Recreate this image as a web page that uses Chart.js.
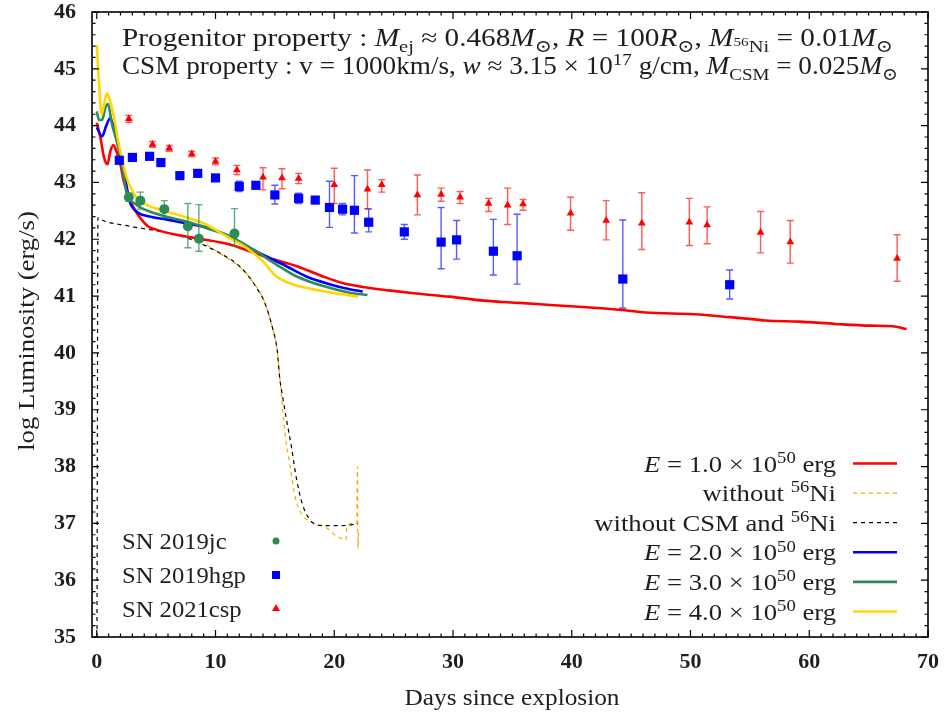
<!DOCTYPE html>
<html>
<head>
<meta charset="utf-8">
<title>Light curves</title>
<script src="https://cdn.jsdelivr.net/npm/chart.js@4.4.0/dist/chart.umd.min.js"></script>
<style>
  html, body { margin: 0; padding: 0; background: #fff; }
</style>
</head>
<body>
<canvas id="lcChart" width="945" height="716"></canvas>
<script>
// tick labels
const xTicks = [0, 10, 20, 30, 40, 50, 60, 70];
const yTicks = [35, 36, 37, 38, 39, 40, 41, 42, 43, 44, 45, 46];

// SN 2019jc (green circles)
const jcDays = [2.7, 3.67, 5.69, 7.67, 8.6, 11.6];
const jcLum = [42.74, 42.68, 42.53, 42.23, 42.01, 42.10];
const jcErrUp = [0.07, 0.15, 0.15, 0.40, 0.60, 0.44];
const jcErrDown = [0.07, 0.15, 0.15, 0.38, 0.22, 0.22];

// SN 2019hgp (blue squares)
const hgpDays = [1.9, 3.0, 4.45, 5.4, 7.0, 8.5, 10.0, 12.0, 13.4, 15.0, 17.0, 18.4, 19.6, 20.7, 21.7, 22.9, 25.9, 29.0, 30.3, 33.4, 35.4, 44.3, 53.3];
const hgpLum = [43.39, 43.44, 43.46, 43.35, 43.12, 43.16, 43.08, 42.93, 42.95, 42.78, 42.72, 42.69, 42.56, 42.53, 42.51, 42.30, 42.13, 41.95, 41.99, 41.79, 41.71, 41.30, 41.20];
const hgpErrUp = [0, 0, 0, 0, 0, 0, 0, 0.09, 0, 0.17, 0.09, 0, 0.46, 0.10, 0.61, 0.23, 0.13, 0.61, 0.34, 0.56, 0.73, 1.04, 0.26];
const hgpErrDown = [0, 0, 0, 0, 0, 0, 0, 0.09, 0, 0.16, 0.09, 0, 0.35, 0.10, 0.40, 0.17, 0.13, 0.47, 0.34, 0.42, 0.50, 0.51, 0.25];

// SN 2021csp (red triangles)
const cspDays = [2.7, 4.7, 6.1, 8.0, 10.0, 11.8, 14.0, 15.6, 17.0, 20.0, 22.8, 24.0, 27.0, 29.0, 30.6, 33.0, 34.6, 35.9, 39.9, 42.9, 45.9, 49.9, 51.4, 55.9, 58.4, 67.4];
const cspLum = [44.12, 43.67, 43.60, 43.50, 43.37, 43.22, 43.09, 43.08, 43.07, 42.96, 42.88, 42.96, 42.78, 42.79, 42.74, 42.63, 42.60, 42.62, 42.46, 42.33, 42.28, 42.30, 42.25, 42.12, 41.95, 41.66];
const cspErrUp = [0.06, 0.05, 0.05, 0.05, 0.06, 0.08, 0.17, 0.16, 0.09, 0.29, 0.34, 0.09, 0.35, 0.11, 0.10, 0.09, 0.30, 0.08, 0.28, 0.35, 0.54, 0.42, 0.32, 0.37, 0.38, 0.42];
const cspErrDown = [0.06, 0.05, 0.05, 0.05, 0.06, 0.08, 0.22, 0.19, 0.09, 0.33, 0.34, 0.13, 0.35, 0.12, 0.11, 0.14, 0.34, 0.11, 0.30, 0.34, 0.46, 0.41, 0.33, 0.36, 0.37, 0.40];

// model light curves [day, log L]
const modelE1 = [[0, 44.05], [0.3, 43.8], [0.6, 43.45], [0.9, 43.32], [1.15, 43.55], [1.4, 43.66], [1.7, 43.52], [1.95, 43.36], [2.3, 43.0], [2.65, 42.78], [3.0, 42.6], [3.47, 42.43], [4.3, 42.23], [5.0, 42.17], [6.7, 42.08], [8.65, 42.01], [11.2, 41.91], [12.9, 41.79], [14.5, 41.67], [16.8, 41.53], [19.0, 41.35], [20.7, 41.23], [22.4, 41.16], [24.6, 41.10], [26.7, 41.05], [29.7, 40.99], [32.6, 40.92], [35.6, 40.88], [38.5, 40.84], [41.5, 40.80], [44.5, 40.75], [46.2, 40.71], [50.3, 40.68], [53.3, 40.63], [55.4, 40.59], [56.3, 40.57], [59.2, 40.55], [62.2, 40.51], [65.1, 40.48], [67.0, 40.47], [68.2, 40.42]];
const modelNoNi = [[0, 44.05], [0.3, 43.8], [0.6, 43.45], [0.9, 43.32], [1.15, 43.55], [1.4, 43.66], [1.7, 43.52], [1.95, 43.36], [2.3, 43.0], [2.65, 42.78], [3.0, 42.6], [3.47, 42.43], [4.3, 42.23], [5.0, 42.17], [6.7, 42.08], [8.65, 42.0], [9.5, 41.87], [10.6, 41.72], [12.0, 41.52], [12.9, 41.32], [14.1, 40.91], [14.8, 40.44], [15.2, 40.04], [15.4, 39.6], [15.66, 39.0], [15.9, 38.5], [16.25, 38.05], [16.7, 37.47], [17.3, 37.15], [18.0, 37.03], [19.0, 36.96], [19.5, 36.9], [19.9, 36.82], [20.4, 36.75], [21.0, 36.71], [21.05, 36.95], [21.6, 37.0], [21.9, 37.0], [21.95, 38.0], [22.0, 36.55], [22.05, 36.85]];
const modelNoCsmNi = [[0.02, 35.0], [0.05, 38.5], [0.1, 42.38], [0.53, 42.33], [2.77, 42.23], [5.0, 42.15], [7.25, 42.05], [8.9, 41.91], [10.6, 41.73], [12.0, 41.53], [12.9, 41.32], [13.6, 41.1], [14.1, 40.91], [14.8, 40.44], [15.2, 40.04], [15.4, 39.57], [15.66, 39.22], [15.94, 38.87], [16.4, 38.34], [16.8, 37.81], [17.3, 37.35], [18.0, 37.05], [19.0, 36.96], [20.7, 36.96], [22.0, 36.99]];
const modelE2 = [[0, 43.97], [0.45, 43.81], [0.8, 44.0], [1.13, 44.13], [1.4, 44.0], [1.7, 43.74], [2.2, 43.31], [2.77, 42.67], [3.33, 42.49], [4.45, 42.40], [5.86, 42.35], [7.8, 42.27], [9.2, 42.21], [11.2, 42.05], [13.4, 41.79], [15.66, 41.56], [17.6, 41.35], [19.6, 41.21], [21.3, 41.12], [22.4, 41.08]];
const modelE3 = [[0, 44.25], [0.2, 44.1], [0.45, 44.1], [0.75, 44.33], [0.95, 44.38], [1.27, 44.04], [1.8, 43.63], [2.2, 43.2], [2.5, 42.84], [3.33, 42.61], [4.45, 42.49], [6.4, 42.37], [7.8, 42.30], [9.2, 42.20], [11.2, 42.05], [13.4, 41.79], [15.1, 41.56], [16.8, 41.35], [19.0, 41.18], [21.3, 41.06], [22.8, 41.02]];
const modelE4 = [[0, 45.42], [0.15, 44.9], [0.4, 44.2], [0.6, 44.35], [0.85, 44.57], [1.1, 44.45], [1.4, 44.2], [1.8, 43.74], [2.1, 43.45], [2.5, 43.1], [2.95, 42.87], [3.4, 42.72], [4.17, 42.61], [5.86, 42.49], [7.8, 42.37], [8.9, 42.29], [11.2, 42.02], [12.6, 41.85], [14.0, 41.61], [15.1, 41.35], [16.5, 41.21], [19.0, 41.09], [22.0, 40.99]];

const FONT = '"Liberation Serif", "DejaVu Serif", serif';
const TEXT = '#1e1e1e';

function toPoints(days, lum) {
    return days.map((d, i) => ({ x: d, y: lum[i] }));
}
function pairs(arr) {
    return arr.map(p => ({ x: p[0], y: p[1] }));
}
function modelLine(arr, color, width, dash) {
    return {
        data: pairs(arr),
        showLine: true,
        pointRadius: 0,
        borderColor: color,
        backgroundColor: color,
        borderWidth: width,
        borderDash: dash || [],
        cubicInterpolationMode: 'monotone'
    };
}

// rich text pieces
const R = t => ({ t });
const I = t => ({ t, i: true });
const SB = t => ({ t, k: 'sub' });
const SP = t => ({ t, k: 'sup' });
const SS = t => ({ t, k: 'ss' });

// draws mixed italic/sub/sup text; stretch widens the glyphs a bit (the original font is wider)
function drawRich(ctx, segs, x, baseY, size, align, stretch, fitWidth) {
    const parts = segs.map(s => {
        let sz = size;
        let dy = 0;
        if (s.k === 'sub') { sz = size * 0.7; dy = size * 0.22; }
        if (s.k === 'sup') { sz = size * 0.7; dy = -size * 0.38; }
        if (s.k === 'ss') { sz = size * 0.52; dy = -size * 0.02; }
        const font = (s.i ? 'italic ' : '') + sz.toFixed(1) + 'px ' + FONT;
        ctx.font = font;
        return { t: s.t, font, dy, w: ctx.measureText(s.t).width };
    });
    const natural = parts.reduce((a, p) => a + p.w, 0);
    const sx = fitWidth ? fitWidth / natural : (stretch || 1);
    const w = natural * sx;
    const start = align === 'right' ? x - w : align === 'center' ? x - w / 2 : x;
    ctx.save();
    ctx.translate(start, baseY);
    ctx.scale(sx, 1);
    ctx.textAlign = 'left';
    ctx.textBaseline = 'alphabetic';
    let cx = 0;
    parts.forEach(p => {
        ctx.font = p.font;
        ctx.fillText(p.t, cx, p.dy);
        cx += p.w;
    });
    ctx.restore();
}

// error bars drawn through the scales
const errorBars = {
    id: 'errorBars',
    afterDatasetsDraw(chart) {
        const { ctx, scales: { x, y } } = chart;
        const sets = [
            [cspDays, cspLum, cspErrUp, cspErrDown, 'rgba(255,0,0,0.65)'],
            [hgpDays, hgpLum, hgpErrUp, hgpErrDown, 'rgba(0,0,255,0.65)'],
            [jcDays, jcLum, jcErrUp, jcErrDown, 'rgba(46,139,87,0.75)']
        ];
        ctx.save();
        ctx.lineWidth = 1.4;
        sets.forEach(([days, lum, up, down, col]) => {
            ctx.strokeStyle = col;
            days.forEach((d, i) => {
                if (!up[i] && !down[i]) return;
                const px = x.getPixelForValue(d);
                const y1 = y.getPixelForValue(lum[i] + up[i]);
                const y2 = y.getPixelForValue(lum[i] - down[i]);
                ctx.beginPath();
                ctx.moveTo(px, y1); ctx.lineTo(px, y2);
                ctx.moveTo(px - 3.5, y1); ctx.lineTo(px + 3.5, y1);
                ctx.moveTo(px - 3.5, y2); ctx.lineTo(px + 3.5, y2);
                ctx.stroke();
            });
        });
        ctx.restore();
    }
};

// frame with inward ticks on all four sides
const frameTicks = {
    id: 'frameTicks',
    afterDraw(chart) {
        const { ctx, chartArea: a, scales: { x, y } } = chart;
        ctx.save();
        ctx.strokeStyle = '#000';
        ctx.lineWidth = 1.6;
        ctx.strokeRect(a.left, a.top, a.right - a.left, a.bottom - a.top);
        ctx.lineWidth = 1.2;
        ctx.beginPath();
        for (let d = 0; d <= 70; d++) {
            const px = x.getPixelForValue(d);
            const len = d % 10 === 0 ? 7 : 3.5;
            ctx.moveTo(px, a.bottom); ctx.lineTo(px, a.bottom - len);
            ctx.moveTo(px, a.top); ctx.lineTo(px, a.top + len);
        }
        for (let k = 0; k <= 55; k++) {
            const py = y.getPixelForValue(35 + k * 0.2);
            const len = k % 5 === 0 ? 7 : 3.5;
            ctx.moveTo(a.left, py); ctx.lineTo(a.left + len, py);
            ctx.moveTo(a.right, py); ctx.lineTo(a.right - len, py);
        }
        ctx.stroke();
        ctx.restore();
    }
};

// annotation text, legends and axis titles
const labels = {
    id: 'labels',
    afterDraw(chart) {
        const ctx = chart.ctx;
        ctx.save();
        ctx.fillStyle = TEXT;

        drawRich(ctx, [R('Progenitor property : '), I('M'), SB('ej'), R(' \u2248 0.468'), I('M'), SB('\u2299'), R(', '), I('R'), R(' = 100'), I('R'), SB('\u2299'), R(', '), I('M'), SS('56'), SB('Ni'), R(' = 0.01'), I('M'), SB('\u2299')], 122, 46, 25, 'left', 1, 771);
        drawRich(ctx, [R('CSM property : v = 1000km/s, '), I('w'), R(' \u2248 3.15 \u00d7 10'), SP('17'), R(' g/cm, '), I('M'), SB('CSM'), R(' = 0.025'), I('M'), SB('\u2299')], 122, 74, 25, 'left', 1, 776);

        // model legend
        const rows = [
            [[I('E'), R(' = 1.0 \u00d7 10'), SP('50'), R(' erg')], '#ff0000', 2.6, []],
            [[R('without '), SP('56'), R('Ni')], '#ffa500', 1.2, [4, 4]],
            [[R('without CSM and '), SP('56'), R('Ni')], '#000000', 1.2, [4, 4]],
            [[I('E'), R(' = 2.0 \u00d7 10'), SP('50'), R(' erg')], '#0000ff', 2.6, []],
            [[I('E'), R(' = 3.0 \u00d7 10'), SP('50'), R(' erg')], '#2e8b57', 2.6, []],
            [[I('E'), R(' = 4.0 \u00d7 10'), SP('50'), R(' erg')], '#ffd700', 2.6, []]
        ];
        rows.forEach((r, i) => {
            const cy = 463.5 + i * 29.6;
            ctx.fillStyle = TEXT;
            drawRich(ctx, r[0], 836, cy + 8, 23, 'right', 1.16);
            ctx.strokeStyle = r[1];
            ctx.lineWidth = r[2];
            ctx.setLineDash(r[3]);
            ctx.beginPath();
            ctx.moveTo(853, cy); ctx.lineTo(897, cy);
            ctx.stroke();
        });
        ctx.setLineDash([]);

        // observation legend
        const obs = ['SN 2019jc', 'SN 2019hgp', 'SN 2021csp'];
        obs.forEach((name, i) => {
            const cy = 541 + i * 34;
            ctx.fillStyle = TEXT;
            drawRich(ctx, [R(name)], 122, cy + 8, 23, 'left', 1.07);
        });
        ctx.fillStyle = '#2e8b57';
        ctx.beginPath(); ctx.arc(276, 541, 3.5, 0, Math.PI * 2); ctx.fill();
        ctx.fillStyle = '#0000ff';
        ctx.fillRect(272, 571, 8, 8);
        ctx.fillStyle = '#ff0000';
        ctx.beginPath(); ctx.moveTo(276, 604); ctx.lineTo(280, 611); ctx.lineTo(272, 611); ctx.closePath(); ctx.fill();

        // axis titles
        ctx.fillStyle = TEXT;
        drawRich(ctx, [R('Days since explosion')], 512, 705, 23, 'center', 1.1);
        ctx.translate(26, 331);
        ctx.rotate(-Math.PI / 2);
        drawRich(ctx, [R('log Luminosity (erg/s)')], 0, 8, 23, 'center', 1.16);
        ctx.restore();
    }
};

const tickFont = { family: FONT, size: 22, weight: 'bold' };

function noPadding(s) {
    s.paddingTop = 0;
    s.paddingBottom = 0;
    s.paddingLeft = 0;
    s.paddingRight = 0;
}

const chartCtx = document.getElementById('lcChart').getContext('2d');
new Chart(chartCtx, {
    type: 'scatter',
    data: {
        datasets: [
            { label: 'SN 2019jc', data: toPoints(jcDays, jcLum), pointStyle: 'circle', pointRadius: 5, backgroundColor: '#2e8b57', borderColor: '#2e8b57', borderWidth: 0 },
            { label: 'SN 2019hgp', data: toPoints(hgpDays, hgpLum), pointStyle: 'rect', pointRadius: 6.5, backgroundColor: '#0000ff', borderColor: '#0000ff', borderWidth: 0 },
            { label: 'SN 2021csp', data: toPoints(cspDays, cspLum), pointStyle: 'triangle', pointRadius: 4.5, backgroundColor: '#ff0000', borderColor: '#ff0000', borderWidth: 0 },
            modelLine(modelE4, '#ffd700', 2.6),
            modelLine(modelE3, '#2e8b57', 2.6),
            modelLine(modelE2, '#0000ff', 2.6),
            modelLine(modelE1, '#ff0000', 2.6),
            modelLine(modelNoCsmNi, '#000000', 1.2, [4, 4]),
            modelLine(modelNoNi, '#ffa500', 1.2, [4, 4])
        ]
    },
    options: {
        responsive: false,
        animation: false,
        devicePixelRatio: 1,
        layout: { padding: { top: 12, right: 17, left: 0, bottom: 0 } },
        plugins: { legend: { display: false }, tooltip: { enabled: false } },
        scales: {
            x: {
                type: 'linear',
                min: -0.4,
                max: 70,
                afterBuildTicks: s => { s.ticks = xTicks.map(v => ({ value: v })); },
                afterFit: s => { s.height = 79; noPadding(s); },
                grid: { display: false, drawTicks: false },
                border: { display: false },
                ticks: { font: tickFont, color: TEXT, padding: 12, maxRotation: 0, autoSkip: false }
            },
            y: {
                min: 35,
                max: 46,
                afterBuildTicks: s => { s.ticks = yTicks.map(v => ({ value: v })); },
                afterFit: s => { s.width = 92; noPadding(s); },
                grid: { display: false, drawTicks: false },
                border: { display: false },
                ticks: { font: tickFont, color: TEXT, padding: 16, autoSkip: false }
            }
        }
    },
    plugins: [errorBars, frameTicks, labels]
});
</script>
</body>
</html>
